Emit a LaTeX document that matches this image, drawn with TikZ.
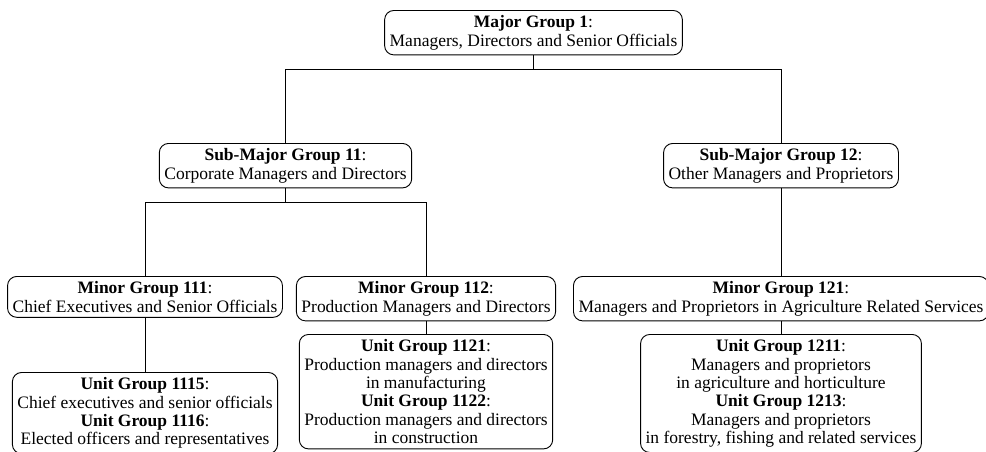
\documentclass[tikz,border=0pt]{standalone}
\usepackage{fontspec}
\setmainfont{Liberation Serif}
\tikzset{grpbox/.style={draw, line width=0.6pt, rounded corners=6pt, align=center, anchor=north, inner sep=3.3pt, font=\fontsize{11.4pt}{12pt}\selectfont}}
\tikzset{grpline/.style={line width=0.6pt}}

\begin{document}
\begin{tikzpicture}[x=0.652pt, y=-0.652pt]
			%%%%% START %%%%%
			
			\useasboundingbox (0, 0) rectangle (986, 451);
			
			\node[grpbox] (mg1) at (533.5, 10) {\textbf{Major Group 1}:\\ Managers, Directors and Senior Officials};
			
			\node[grpbox] (smg11) at (285.5, 143) {\textbf{Sub-Major Group 11}:\\ Corporate Managers and Directors};
			\node[grpbox] (smg12) at (781, 143) {\textbf{Sub-Major Group 12}:\\ Other Managers and Proprietors};
			
			\node[grpbox] (mg111) at (145, 276) {\textbf{Minor Group 111}:\\ Chief Executives and Senior Officials};
			\node[grpbox] (mg112) at (426, 276) {\textbf{Minor Group 112}:\\ Production Managers and Directors};
			\node[grpbox] (mg121) at (781, 276) {\textbf{Minor Group 121}:\\ Managers and Proprietors in Agriculture Related Services};
			
			\node[grpbox] (ug111) at (145, 372) {\textbf{Unit Group 1115}:\\ Chief executives and senior officials\\ \textbf{Unit Group 1116}:\\ Elected officers and representatives};
			\node[grpbox] (ug112) at (426, 334) {\textbf{Unit Group 1121}:\\ Production managers and directors\\ in manufacturing\\ \textbf{Unit Group 1122}:\\ Production managers and directors\\ in construction};
			\node[grpbox] (ug121) at (781, 334) {\textbf{Unit Group 1211}:\\ Managers and proprietors\\ in agriculture and horticulture\\ \textbf{Unit Group 1213}:\\ Managers and proprietors\\ in forestry, fishing and related services};
			
			\draw[grpline] (mg1.south) -- +(0, 14) -| (smg11.north);
			\draw[grpline] (mg1.south) -- +(0, 14) -| (smg12.north);
			
			\draw[grpline] (smg11.south) -- +(0, 14) -| (mg111.north);
			\draw[grpline] (smg11.south) -- +(0, 14) -| (mg112.north);
			\draw[grpline] (smg12.south) -- (mg121.north);
			
			\draw[grpline] (mg111.south) -- (ug111.north);
			\draw[grpline] (mg112.south) -- (ug112.north);
			\draw[grpline] (mg121.south) -- (ug121.north);
			
			%%%%% END %%%%%
		\end{tikzpicture}
\end{document}
